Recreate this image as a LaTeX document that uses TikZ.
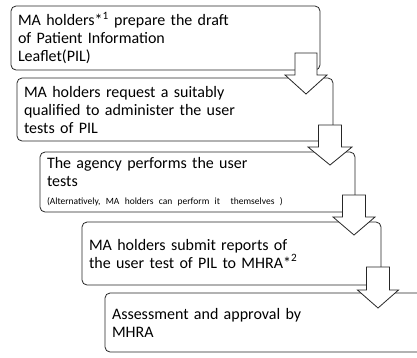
\documentclass[tikz,border=0pt]{standalone}
\usepackage{fontspec}
\setmainfont{Carlito}
\usepackage{tikz}
\usetikzlibrary{positioning}
\tikzset{stepbox/.style = {draw=black!85, line width=0.8pt, rounded corners=5pt, fill=white, align=left, inner xsep=7pt, inner ysep=2pt, font=\fontsize{16}{18}\selectfont},
	blockarrow/.style = {draw=black!85, line width=0.8pt, fill=white, line join=miter}}
% down arrow: centre x, half shaft, half head, shaft top, head base, tip
\newcommand{\flowarrow}[6]{\draw[blockarrow] ({#1-#2},#4) -- ({#1+#2},#4) -- ({#1+#2},#5) -- ({#1+#3},#5) -- (#1,#6) -- ({#1-#3},#5) -- ({#1-#2},#5) -- cycle;}
\begin{document}
\begin{tikzpicture}[x=1pt, y=-1pt]
		\useasboundingbox (0,0) rectangle (417,357);

		\node[stepbox, minimum width=309pt, text width=295pt, minimum height=64pt] (draft) at (165.5,38) {MA holders*\textsuperscript{1} prepare the draft\\of Patient Information\\Leaflet(PIL)};
		\node[stepbox, minimum width=316pt, text width=302pt, minimum height=63pt] (request) at (175,109.5) {MA holders request a suitably\\qualified to administer the user\\tests of PIL};
		\node[stepbox, minimum width=315pt, text width=301pt, minimum height=60pt] (perform) at (197.5,182) {The agency performs the user\\tests\\[0pt]{\fontsize{9.5}{11}\selectfont (Alternatively, MA holders can perform it\ \ themselves )}};
		\node[stepbox, minimum width=299pt, text width=285pt, minimum height=63pt] (submit) at (231.5,253.5) {MA holders submit reports of\\the user test of PIL to MHRA*\textsuperscript{2}};
		\node[stepbox, minimum width=350pt, text width=336pt, minimum height=59pt] (approve) at (280,322.5) {Assessment and approval by\\MHRA};

		\flowarrow{306}{11}{21}{53}{75}{94}
		\flowarrow{330}{11.5}{22}{125}{147}{165}
		\flowarrow{354}{11.5}{21}{195}{217}{235}
		\flowarrow{378}{11.5}{20.5}{267}{290}{308}
	\end{tikzpicture}
\end{document}
